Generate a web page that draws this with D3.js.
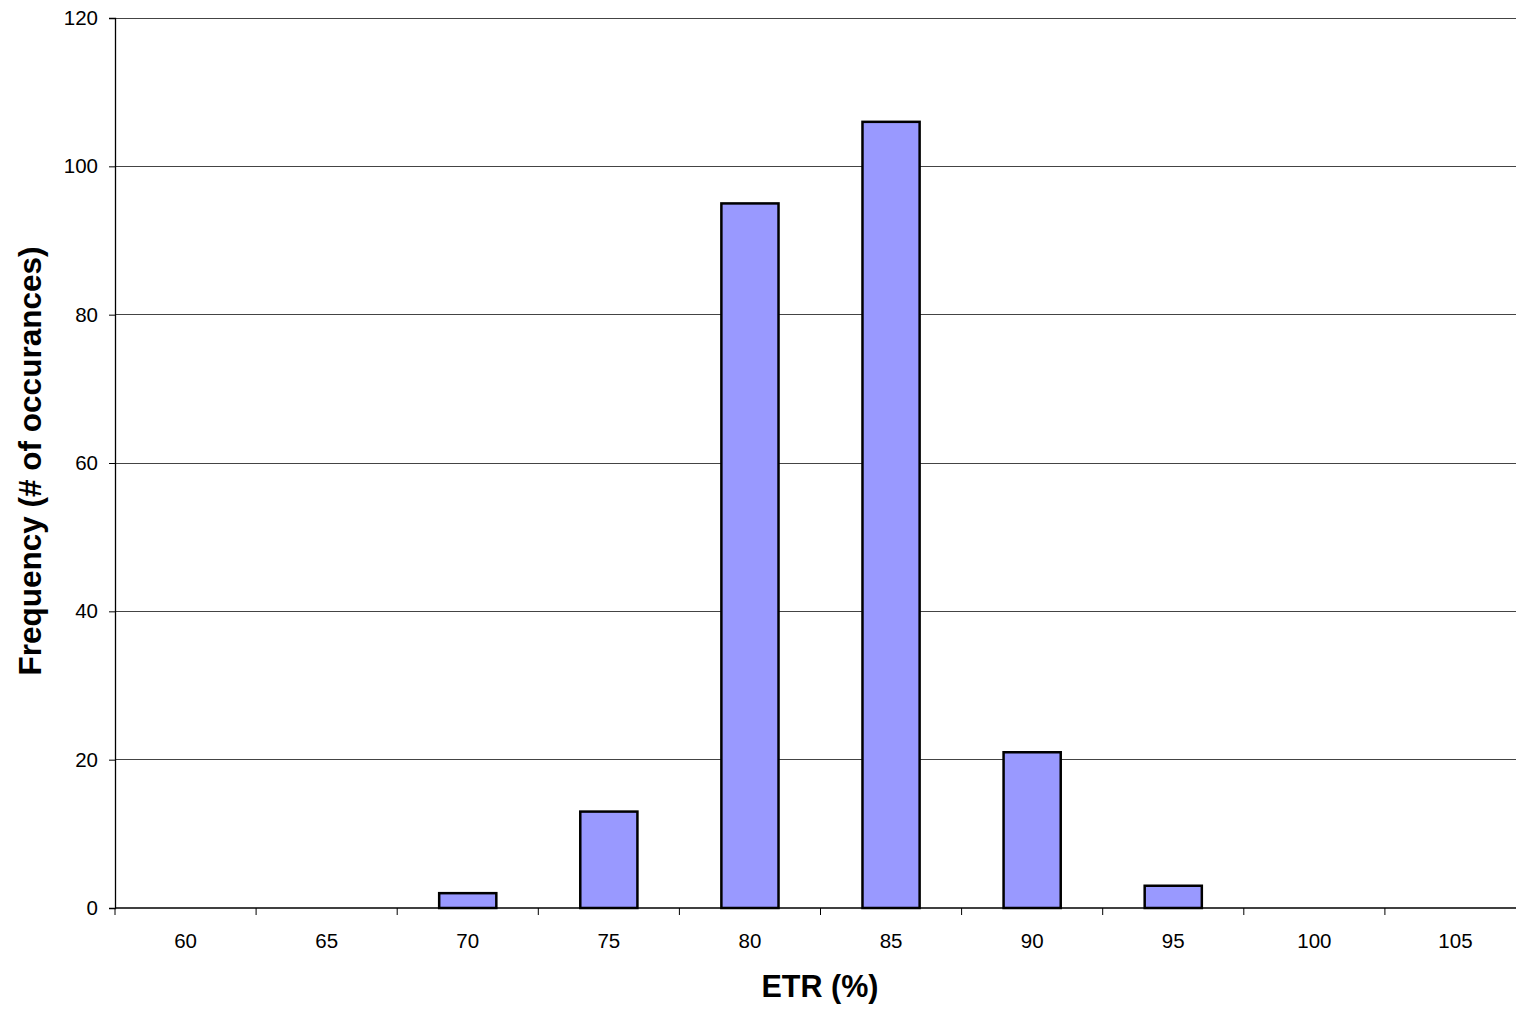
<!DOCTYPE html>
<html>
<head>
<meta charset="utf-8">
<script src="https://cdn.jsdelivr.net/npm/d3@7"></script>
<style>
  body { margin: 0; background: #fff; }
  svg { display: block; font-family: "Liberation Sans", Arial, sans-serif; }
</style>
</head>
<body>
<svg id="chart" width="1516" height="1013"></svg>
<script>
// ETR bins and their counts
const categories = ["60", "65", "70", "75", "80", "85", "90", "95", "100", "105"];
const counts = [0, 0, 2, 13, 95, 106, 21, 3, 0, 0];
const yTicks = [0, 20, 40, 60, 80, 100, 120];

const svg = d3.select("#chart");
const plotLeft = 115, plotTop = 18, plotBottom = 908, plotRight = 1526;

const x = d3.scaleBand().domain(categories).range([plotLeft, plotRight]).padding(0);
const y = d3.scaleLinear().domain([0, 120]).range([plotBottom, plotTop]);

// horizontal gridlines
svg.append("g")
  .selectAll("line")
  .data(yTicks.filter(d => d > 0))
  .join("line")
  .attr("x1", plotLeft).attr("x2", plotRight)
  .attr("y1", d => y(d)).attr("y2", d => y(d))
  .attr("stroke", "#444").attr("stroke-width", 1).attr("shape-rendering", "crispEdges");

// bars
const barW = x.bandwidth() * 0.405;
svg.append("g")
  .selectAll("rect")
  .data(categories.map((c, i) => ({ c, v: counts[i] })).filter(d => d.v > 0))
  .join("rect")
  .attr("x", d => x(d.c) + (x.bandwidth() - barW) / 2)
  .attr("width", barW)
  .attr("y", d => y(d.v))
  .attr("height", d => y(0) - y(d.v))
  .attr("fill", "#9999FF")
  .attr("stroke", "#000")
  .attr("stroke-width", 2.5);

// y axis
const yAxis = svg.append("g")
  .attr("transform", `translate(${plotLeft},0)`)
  .call(d3.axisLeft(y).tickValues(yTicks).tickSize(6).tickPadding(11));
yAxis.select(".domain").attr("stroke", "#000").attr("stroke-width", 1.3);
yAxis.selectAll(".tick line").attr("stroke", "#000");
yAxis.selectAll("text").attr("font-size", 20.5).attr("fill", "#000")
  .attr("font-family", "Liberation Sans, Arial, sans-serif");

// x axis: ticks at bin boundaries, labels in the middle of each bin
const xg = svg.append("g").attr("transform", `translate(0,${plotBottom})`);
xg.append("line").attr("x1", plotLeft).attr("x2", plotRight).attr("y1", 0).attr("y2", 0)
  .attr("stroke", "#000").attr("stroke-width", 1.3);
xg.selectAll("line.tk")
  .data(categories)
  .join("line").attr("class", "tk")
  .attr("x1", d => x(d)).attr("x2", d => x(d))
  .attr("y1", 0).attr("y2", 7)
  .attr("stroke", "#000").attr("stroke-width", 1);
xg.selectAll("text")
  .data(categories)
  .join("text")
  .attr("x", d => x(d) + x.bandwidth() / 2)
  .attr("y", 40)
  .attr("text-anchor", "middle")
  .attr("font-size", 20.5)
  .text(d => d);

// axis titles
svg.append("text")
  .attr("x", 820).attr("y", 997)
  .attr("text-anchor", "middle")
  .attr("font-size", 30.5).attr("font-weight", "bold")
  .text("ETR (%)");

svg.append("text")
  .attr("transform", "translate(41,461) rotate(-90)")
  .attr("text-anchor", "middle")
  .attr("font-size", 31.5).attr("font-weight", "bold")
  .text("Frequency (# of occurances)");
</script>
</body>
</html>
